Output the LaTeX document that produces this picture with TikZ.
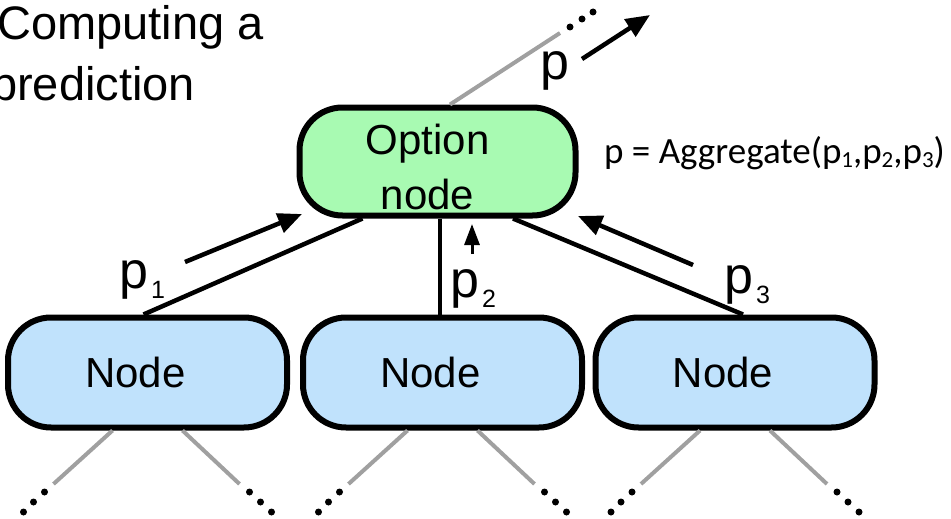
\documentclass[tikz,border=0pt]{standalone}
\usepackage{fontspec}
\setmainfont{Liberation Sans}
\newfontfamily\calibrifont{Carlito}
\usetikzlibrary{arrows.meta}
\definecolor{optgreen}{RGB}{168,250,178}
\definecolor{nodeblue}{RGB}{192,226,252}
\definecolor{branchgray}{RGB}{160,160,160}
\newcommand\subdigit[1]{\hspace{3pt}\raisebox{-10pt}{\fontsize{25}{25}\selectfont #1}}
\newcommand\aggsub[1]{\raisebox{-4pt}{\fontsize{23}{23}\selectfont #1}}
\begin{document}
\begin{tikzpicture}[x=1pt,y=-1pt,
  box/.style={rectangle, rounded corners=43pt, draw=black, line width=6pt,
    inner sep=0pt, font=\fontsize{42}{55}\selectfont},
  bottombox/.style={box, fill=nodeblue, minimum width=279pt, minimum height=110pt},
  link/.style={line width=4.5pt},
  branch/.style={draw=branchgray, line width=4pt},
  flow/.style={line width=4.5pt, -{Triangle[length=24pt,width=20pt]}},
  plabel/.style={font=\fontsize{52}{52}\selectfont, anchor=base west, inner sep=0pt},
]
\useasboundingbox (0,0) rectangle (951,519);

% title
\node[anchor=north west, align=left, inner sep=0pt,
  font=\fontsize{47}{61}\selectfont] (title) at (-3,5) {Computing a\\\hspace*{-6pt}prediction};

% upward branch above the option node
\coordinate (upend) at (560,33);

% nodes
\node[box, fill=optgreen, minimum width=276pt, minimum height=108pt, align=center]
  (opt) at (437.5,161.5) {\rule{0pt}{42pt}\hspace*{-20pt}Option\\\hspace*{-20pt}node};
\node[bottombox] (n1) at (147.5,372.5) {\hspace*{-24pt}Node};
\node[bottombox] (n2) at (442.5,372.5) {\hspace*{-24pt}Node};
\node[bottombox] (n3) at (735,372.5) {\hspace*{-24pt}Node};

% tree edges
\draw[branch] ([xshift=12.5pt]opt.north) -- (upend);
\draw[link] ([xshift=-75pt]opt.south) -- ([xshift=-4pt]n1.north);
\draw[link] ([xshift=2.5pt]opt.south) -- ([xshift=-2.5pt]n2.north);
\draw[link] ([xshift=75.5pt]opt.south) -- ([xshift=8pt]n3.north);

% continuation dots above
\fill (570,27) circle[radius=3.5pt] (582,19) circle[radius=3.5pt] (593,12) circle[radius=3.5pt];

% branches below the bottom nodes
\foreach \n/\cx in {n1/147.5, n2/442.5, n3/735}{
  \coordinate (\n-l) at (\cx-94,484);
  \coordinate (\n-r) at (\cx+92,484);
  \draw[branch] ([xshift=-35pt]\n.south) -- (\n-l);
  \draw[branch] ([xshift=35pt]\n.south) -- (\n-r);
  \fill (\cx-103,492) circle[radius=3.5pt] (\cx-114,502) circle[radius=3.5pt]
        (\cx-124,512) circle[radius=3.5pt];
  \fill (\cx+102,492) circle[radius=3.5pt] (\cx+113,502) circle[radius=3.5pt]
        (\cx+124,512) circle[radius=3.5pt];
}

% prediction flow arrows
\coordinate (f0s) at (582,59);  \coordinate (f0e) at (650,15);
\coordinate (f1s) at (185,262); \coordinate (f1e) at (302,214);
\coordinate (f2s) at (472,254); \coordinate (f2e) at (472,224);
\coordinate (f3s) at (693,265); \coordinate (f3e) at (578,216);
\draw[flow] (f0s) -- (f0e);
\draw[flow] (f1s) -- (f1e);
\draw[line width=3pt, -{Triangle[length=21pt,width=15pt]}] (f2s) -- (f2e);
\draw[flow] (f3s) -- (f3e);

% labels
\node[plabel] (lp)  at (540,80)  {p};
\node[plabel] (lp1) at (119,288) {p\subdigit{1}};
\node[plabel] (lp2) at (450,297) {p\subdigit{2}};
\node[plabel] (lp3) at (724,293) {p\subdigit{3}};

\node[anchor=base west, inner sep=0pt, font=\calibrifont\fontsize{37}{37}\selectfont]
  (agg) at (604,163) {p = Aggregate(p\aggsub{1},p\aggsub{2},p\aggsub{3})};
\end{tikzpicture}
\end{document}
